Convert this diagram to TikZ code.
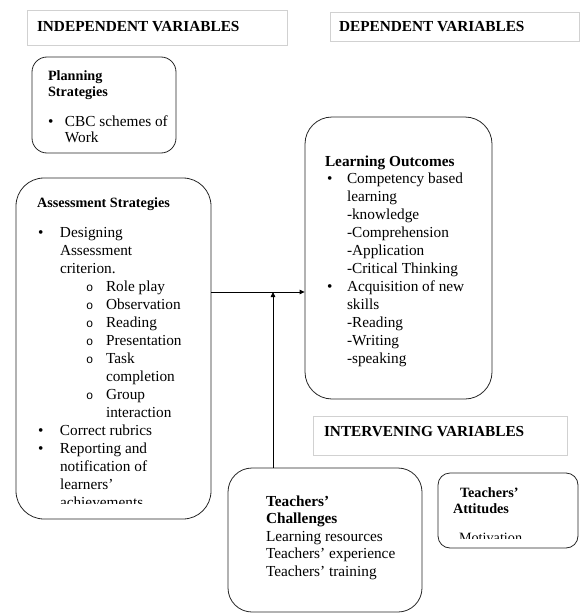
\documentclass[tikz,border=0pt]{standalone}
\usepackage{fontspec}
\setmainfont{Liberation Serif}
\newfontfamily\monof{Liberation Mono}
\usetikzlibrary{arrows.meta}
\newcommand\Ln[2]{\makebox[0pt][l]{\hspace*{#1}#2}}
\newcommand\bodyfont{\fontsize{15.3}{18}\selectfont}
\newcommand\titlefont{\fontsize{14.2}{16.3}\selectfont\bfseries}
\newcommand\subb{{\monof\fontsize{12}{12}\selectfont o}}
\tikzset{
  headbox/.style={draw=black!18, line width=0.6pt, inner sep=0pt},
  rbox/.style={draw=black!85, line width=0.8pt, inner sep=0pt},
  txt/.style={anchor=base west, inner sep=0pt, outer sep=0pt, align=left},
  conn/.style={draw=black, line width=0.8pt, -{Triangle[length=5pt,width=4.5pt]}}
}
\begin{document}
\begin{tikzpicture}[x=1pt,y=-1pt]
\useasboundingbox (0,0) rectangle (579,613);
% header boxes
\node[headbox, minimum width=260pt, minimum height=35pt] (indh) at (157,27.5) {};
\node[headbox, minimum width=249pt, minimum height=29pt] (deph) at (454.5,26.5) {};
\node[headbox, minimum width=254pt, minimum height=39pt] (inth) at (440,435.5) {};
\node[txt] (indt) at (37,31) {\bodyfont\bfseries INDEPENDENT VARIABLES};
\node[txt] (dept) at (339,31.5) {\bodyfont\bfseries DEPENDENT VARIABLES};
\node[txt] (intt) at (324,436.5) {\bodyfont\bfseries INTERVENING VARIABLES};
% rounded boxes
\node[rbox, rounded corners=15pt, minimum width=144pt, minimum height=96pt] (plan) at (104,105) {};
\node[rbox, rounded corners=28pt, minimum width=195pt, minimum height=341pt] (assess) at (113.5,348.5) {};
\node[rbox, rounded corners=27pt, minimum width=187pt, minimum height=282pt] (outc) at (398.5,258) {};
\node[rbox, rounded corners=24pt, minimum width=194pt, minimum height=144pt] (chall) at (325,540) {};
\node[rbox, rounded corners=12pt, minimum width=140pt, minimum height=75pt] (attit) at (508,510.5) {};
% planning text
\node[txt] (plant) at (48,80) {\parbox[t]{120pt}{\titlefont Planning\\Strategies}};
\node[txt] (planb) at (48,126) {\parbox[t]{120pt}{\bodyfont\baselineskip=16.5pt
  \Ln{0pt}{\textbullet}\Ln{17pt}{CBC schemes of}\\
  \Ln{17pt}{Work}}};
% assessment text
\node[txt] (asst) at (37,207.5) {\titlefont Assessment Strategies};
\begin{scope}
\clip (16,178) rectangle (211,503);
\node[txt] (assb) at (38,237) {\parbox[t]{170pt}{\bodyfont
  \Ln{0pt}{\textbullet}\Ln{22pt}{Designing}\\
  \Ln{22pt}{Assessment}\\
  \Ln{22pt}{criterion.}\\
  \Ln{48pt}{\subb}\Ln{68pt}{Role play}\\
  \Ln{48pt}{\subb}\Ln{68pt}{Observation}\\
  \Ln{48pt}{\subb}\Ln{68pt}{Reading}\\
  \Ln{48pt}{\subb}\Ln{68pt}{Presentation}\\
  \Ln{48pt}{\subb}\Ln{68pt}{Task}\\
  \Ln{68pt}{completion}\\
  \Ln{48pt}{\subb}\Ln{68pt}{Group}\\
  \Ln{68pt}{interaction}\\
  \Ln{0pt}{\textbullet}\Ln{22pt}{Correct rubrics}\\
  \Ln{0pt}{\textbullet}\Ln{22pt}{Reporting and}\\
  \Ln{22pt}{notification of}\\
  \Ln{22pt}{learners’}\\
  \Ln{22pt}{achievements}}};
\end{scope}
% learning outcomes text
\node[txt] (outt) at (325,166) {\bodyfont\bfseries Learning Outcomes};
\node[txt] (outb) at (327,183.5) {\parbox[t]{160pt}{\bodyfont
  \Ln{0pt}{\textbullet}\Ln{20pt}{Competency based}\\
  \Ln{20pt}{learning}\\
  \Ln{20pt}{-knowledge}\\
  \Ln{20pt}{-Comprehension}\\
  \Ln{20pt}{-Application}\\
  \Ln{20pt}{-Critical Thinking}\\
  \Ln{0pt}{\textbullet}\Ln{20pt}{Acquisition of new}\\
  \Ln{20pt}{skills}\\
  \Ln{20pt}{-Reading}\\
  \Ln{20pt}{-Writing}\\
  \Ln{20pt}{-speaking}}};
% challenges text
\node[txt] (challt) at (266,506.5) {\parbox[t]{150pt}{\bodyfont\bfseries\baselineskip=17pt Teachers’\\Challenges}};
\node[txt] (challb) at (266,541) {\parbox[t]{150pt}{\bodyfont\baselineskip=17.8pt
  Learning resources\\
  Teachers’ experience\\
  Teachers’ training}};
% attitudes text
\node[txt] (attt) at (453,497) {\parbox[t]{110pt}{\titlefont\baselineskip=16pt \Ln{7pt}{Teachers’}\\Attitudes}};
\begin{scope}
\clip (438,473) rectangle (578,538);
\node[txt] (attb) at (459,542) {\fontsize{14.2}{16}\selectfont Motivation};
\end{scope}
% connectors
\coordinate (hy) at (0,292);
\coordinate (vx) at (273,0);
\draw[conn] (assess.east |- hy) -- (outc.west |- hy);
\draw[conn] (chall.north -| vx) -- (vx |- hy);
\end{tikzpicture}
\end{document}
